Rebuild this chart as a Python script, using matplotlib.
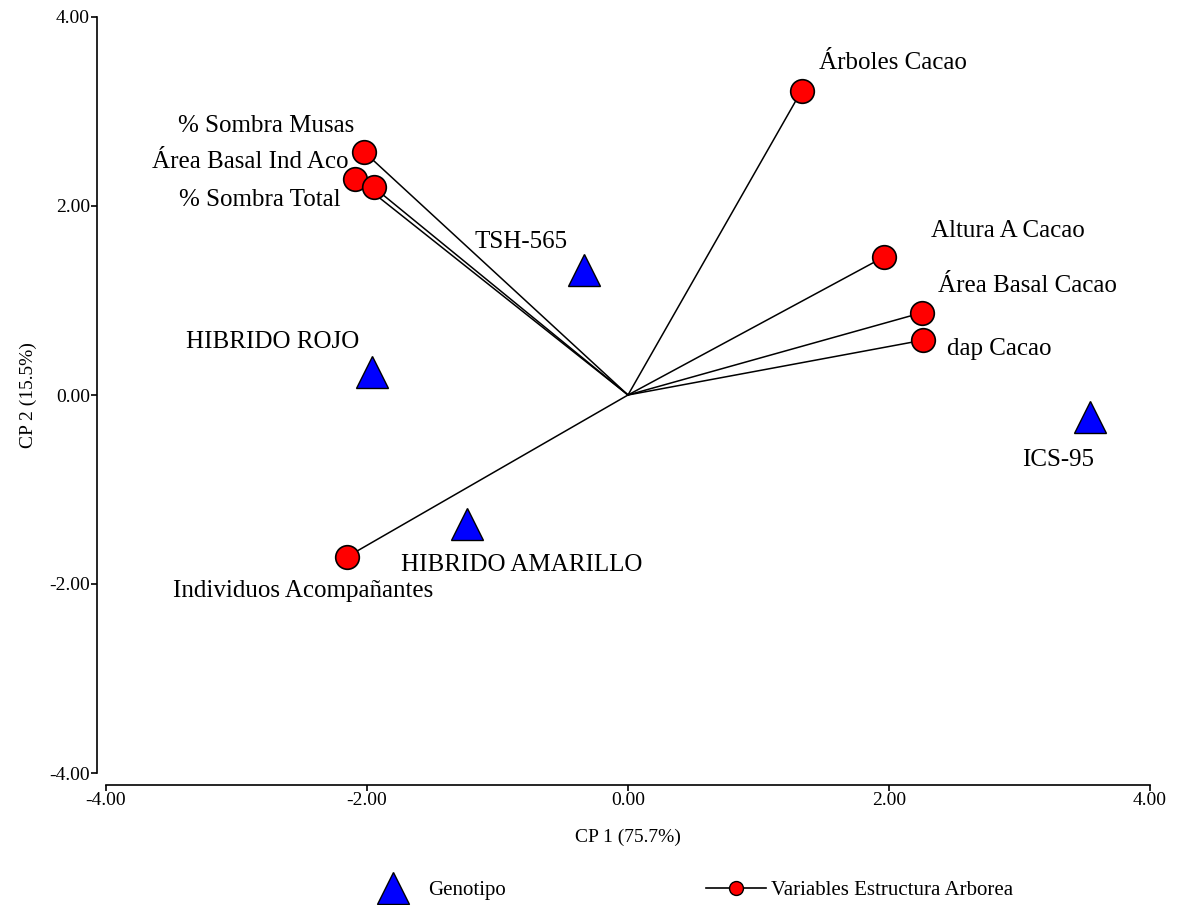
import matplotlib.pyplot as plt
from matplotlib.lines import Line2D

plt.rcParams['font.family'] = ['Liberation Serif', 'DejaVu Serif']

# variables (loadings)
var_names = ['Árboles Cacao', '% Sombra Musas', 'Área Basal Ind Aco', '% Sombra Total',
             'Altura A Cacao', 'Área Basal Cacao', 'dap Cacao', 'Individuos Acompañantes']
var_x = [1.33, -2.02, -2.09, -1.95, 1.96, 2.25, 2.26, -2.15]
var_y = [3.22, 2.57, 2.29, 2.20, 1.46, 0.87, 0.58, -1.71]

# genotypes (scores)
gen_names = ['TSH-565', 'HIBRIDO ROJO', 'HIBRIDO AMARILLO', 'ICS-95']
gen_x = [-0.34, -1.96, -1.23, 3.54]
gen_y = [1.32, 0.24, -1.36, -0.23]

# label offsets (points) and alignment
var_off = [(66, 20, 'center'), (-7, 19, 'right'), (-5, 12, 'right'), (-24, -9, 'right'),
           (89, 19, 'center'), (76, 19, 'center'), (55, -6, 'center'), (-32, -25, 'center')]
gen_off = [(-45, 20), (-72, 22), (39, -30), (-23, -31)]

fig = plt.figure(figsize=(11.86, 9.05), dpi=100)
ax = fig.add_axes([106 / 1186, 1 - 773 / 905, 1044 / 1186, 756 / 905])

for x, y in zip(var_x, var_y):
    ax.plot([0, x], [0, y], color='black', lw=1.1, zorder=2)
ax.plot(var_x, var_y, 'o', ms=17, mfc='red', mec='black', mew=1.2, ls='none', zorder=3)
ax.plot(gen_x, gen_y, '^', ms=23, mfc='blue', mec='black', mew=1.0, ls='none', zorder=3)

for n, x, y, (dx, dy, ha) in zip(var_names, var_x, var_y, var_off):
    ax.annotate(n, (x, y), xytext=(dx, dy), textcoords='offset points',
                ha=ha, va='center', fontsize=18)
for n, x, y, (dx, dy) in zip(gen_names, gen_x, gen_y, gen_off):
    ax.annotate(n, (x, y), xytext=(dx, dy), textcoords='offset points',
                ha='center', va='center', fontsize=18)

ax.set_xlim(-4, 4)
ax.set_ylim(-4, 4)
ax.set_xticks([-4, -2, 0, 2, 4])
ax.set_yticks([-4, -2, 0, 2, 4])
ax.set_xticklabels(['%.2f' % v for v in ax.get_xticks()])
ax.set_yticklabels(['%.2f' % v for v in ax.get_yticks()])
ax.tick_params(labelsize=14, length=4, width=1.2, pad=1)
for s in ['top', 'right']:
    ax.spines[s].set_visible(False)
ax.spines['left'].set_position(('outward', 6.5))
ax.spines['bottom'].set_position(('outward', 8.6))
ax.spines['left'].set_linewidth(1.2)
ax.spines['bottom'].set_linewidth(1.2)

ax.set_xlabel('CP 1 (75.7%)', fontsize=14, labelpad=14)
ax.set_ylabel('CP 2 (15.5%)', fontsize=14, labelpad=9)

handles = [Line2D([], [], marker='^', ms=23, mfc='blue', mec='black', ls='none'),
           Line2D([], [], marker='o', ms=10, mfc='red', mec='black', color='black', lw=1.2)]
fig.legend(handles, ['Genotipo', 'Variables Estructura Arborea'], ncol=2, frameon=False,
           loc='center', bbox_to_anchor=(0.58, 0.016), fontsize=15,
           handlelength=2.9, handletextpad=0.25, columnspacing=9.6)

fig.savefig('out.png', dpi=100)
